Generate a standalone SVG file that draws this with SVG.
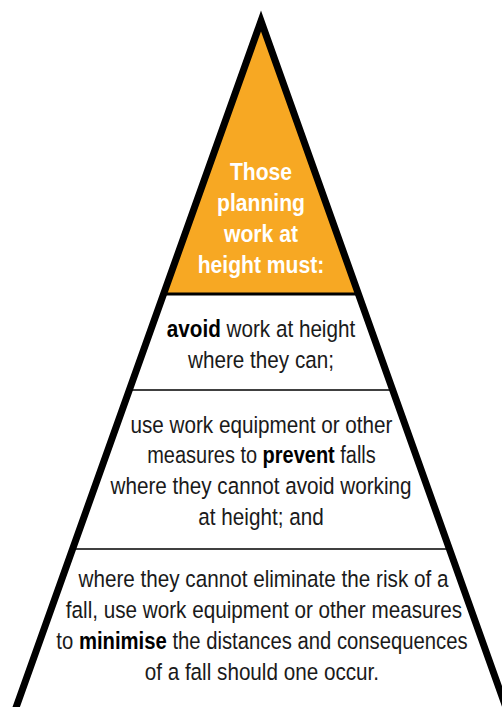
<svg xmlns="http://www.w3.org/2000/svg" width="502" height="707" viewBox="0 0 502 707">
  <style>
    .t { font-family: "Liberation Sans", Arial, sans-serif; font-size: 23.5px; fill: #1a1a1a; text-anchor: middle; }
    .h { font-family: "Liberation Sans", Arial, sans-serif; font-size: 24px; font-weight: bold; fill: #ffffff; text-anchor: middle; }
    .b { font-weight: bold; fill: #000000; }
  </style>
  <rect x="0" y="0" width="502" height="707" fill="#ffffff"/>
  <g id="top">
    <polygon points="261,21 163.5,294 358.5,294" fill="#F7A823"/>
    <g transform="translate(31.32,0) scale(0.88,1)">
      <text class="h" x="261" y="180">Those</text>
      <text class="h" x="261" y="211">planning</text>
      <text class="h" x="261" y="242">work at</text>
      <text class="h" x="261" y="273">height must:</text>
    </g>
  </g>
  <g id="connectors" stroke="#000000" fill="none">
    <line x1="163" y1="294" x2="359" y2="294" stroke-width="3"/>
    <line x1="129" y1="390" x2="393" y2="390" stroke-width="1.5"/>
    <line x1="72" y1="549" x2="450" y2="549" stroke-width="1.5"/>
    <polyline points="8,730 261,21 514,730" stroke-width="7" stroke-linejoin="miter"/>
  </g>
  <g id="avoid">
    <g transform="translate(31.32,0) scale(0.88,1)">
      <text class="t" x="261" y="337"><tspan class="b">avoid</tspan> work at height</text>
      <text class="t" x="261" y="368">where they can;</text>
    </g>
  </g>
  <g id="prevent">
    <g transform="translate(31.32,0) scale(0.88,1)">
      <text class="t" x="261.5" y="433">use work equipment or other</text>
      <text class="t" x="261" y="494">where they cannot avoid working</text>
      <text class="t" x="261" y="525">at height; and</text>
    </g>
    <text class="t" x="261.5" y="463" transform="translate(39.23,0) scale(0.85,1)">measures to <tspan class="b">prevent</tspan> falls</text>
  </g>
  <g id="minimise">
    <g transform="translate(31.32,0) scale(0.88,1)">
      <text class="t" x="263.8" y="587">where they cannot eliminate the risk of a</text>
      <text class="t" x="264.4" y="618">fall, use work equipment or other measures</text>
      <text class="t" x="262" y="680">of a fall should one occur.</text>
    </g>
    <text class="t" x="262" y="649" transform="translate(35.89,0) scale(0.863,1)">to <tspan class="b">minimise</tspan> the distances and consequences</text>
  </g>
</svg>
